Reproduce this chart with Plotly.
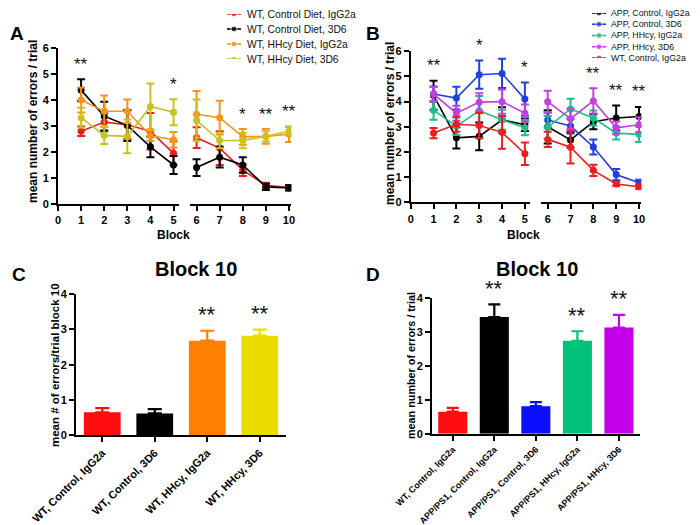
import plotly.graph_objects as go

# ---------------- data ----------------
blocks = [1, 2, 3, 4, 5, 6, 7, 8, 9, 10]

# Panel A
A_names = ["WT, Control Diet, IgG2a", "WT, Control Diet, 3D6",
           "WT, HHcy Diet, IgG2a", "WT, HHcy Diet, 3D6"]
A_wt_ctrl_igg = [2.8, 3.15, 3.05, 2.8, 1.95, 2.55, 2.15, 1.3, 0.72, 0.63]
A_wt_ctrl_igg_err = [0.18, 0.35, 0.55, 0.7, 0.45, 0.4, 0.65, 0.22, 0.1, 0.1]
A_wt_ctrl_3d6 = [4.38, 3.38, 3.02, 2.2, 1.5, 1.4, 1.8, 1.5, 0.66, 0.62]
A_wt_ctrl_3d6_err = [0.42, 0.55, 0.6, 0.4, 0.35, 0.32, 0.4, 0.3, 0.12, 0.1]
A_wt_hhcy_igg = [4.0, 3.57, 3.57, 2.62, 2.47, 3.45, 3.32, 2.58, 2.6, 2.68]
A_wt_hhcy_igg_err = [0.48, 0.6, 0.45, 0.2, 0.3, 0.9, 0.65, 0.3, 0.28, 0.3]
A_wt_hhcy_3d6 = [3.32, 2.64, 2.6, 3.75, 3.53, 3.22, 2.44, 2.44, 2.6, 2.8]
A_wt_hhcy_3d6_err = [0.38, 0.33, 0.65, 0.88, 0.5, 0.8, 0.3, 0.3, 0.2, 0.16]
A_sig_blocks = [1, 5, 8, 9, 10]
A_sig_labels = ["**", "*", "*", "**", "**"]

# Panel B
B_names = ["APP, Control, IgG2a", "APP, Control, 3D6", "APP, HHcy, IgG2a",
           "APP, HHcy, 3D6", "WT, Control, IgG2a"]
B_app_ctrl_igg = [4.25, 2.56, 2.62, 3.28, 3.08, 3.0, 2.48, 3.2, 3.35, 3.41]
B_app_ctrl_igg_err = [0.58, 0.42, 0.55, 0.5, 0.25, 0.66, 0.3, 0.3, 0.5, 0.38]
B_app_ctrl_3d6 = [4.3, 4.14, 5.07, 5.12, 4.1, 3.27, 3.03, 2.2, 1.1, 0.78]
B_app_ctrl_3d6_err = [0.3, 0.45, 0.56, 0.58, 0.66, 0.3, 0.3, 0.3, 0.22, 0.12]
B_app_hhcy_igg = [3.66, 3.02, 3.64, 3.28, 2.96, 2.98, 3.71, 3.35, 2.75, 2.7]
B_app_hhcy_igg_err = [0.38, 0.35, 0.58, 0.4, 0.3, 0.45, 0.4, 0.3, 0.25, 0.3]
B_app_hhcy_3d6 = [4.3, 3.54, 3.98, 4.0, 3.54, 4.0, 3.32, 4.03, 2.96, 3.08]
B_app_hhcy_3d6_err = [0.28, 0.3, 0.35, 0.48, 0.35, 0.43, 0.4, 0.5, 0.25, 0.3]
B_wt_ctrl_igg = [2.75, 3.1, 3.05, 2.78, 1.93, 2.5, 2.19, 1.27, 0.73, 0.62]
B_wt_ctrl_igg_err = [0.2, 0.3, 0.5, 0.65, 0.45, 0.3, 0.65, 0.22, 0.08, 0.08]
B_sig_blocks = [1, 3, 5, 8, 9, 10]
B_sig_labels = ["**", "*", "*", "**", "**", "**"]

# Panel C
C_labels = ["WT, Control, IgG2a", "WT, Control, 3D6", "WT, HHcy, IgG2a", "WT, HHcy, 3D6"]
C_values = [0.65, 0.62, 2.68, 2.82]
C_errors = [0.12, 0.12, 0.28, 0.17]
C_sig = ["", "", "**", "**"]

# Panel D
D_labels = ["WT, Control, IgG2a", "APP/PS1, Control, IgG2a", "APP/PS1, Control, 3D6",
            "APP/PS1, HHcy, IgG2a", "APP/PS1, HHcy, 3D6"]
D_values = [0.65, 3.44, 0.81, 2.74, 3.13]
D_errors = [0.11, 0.37, 0.12, 0.28, 0.37]
D_sig = ["", "**", "", "**", "**"]

# ---------------- styles ----------------
RED, BLACK, ORANGE, OLIVE = "#f21c1c", "#000000", "#f7941d", "#c9c21b"
BLUE, GREEN, PURPLE = "#1f3fe6", "#1dbf85", "#c23fe0"
C_colors = ["#ff0d0d", "#000000", "#ff8000", "#ebdd00"]
D_colors = ["#ff0d0d", "#000000", "#0d0dff", "#00c07a", "#c400ea"]

FONT = "Liberation Sans, Arial, sans-serif"
W, H = 700, 525


def fx(p):
    return p / W


def fy(p):
    return 1 - p / H


fig = go.Figure()

A_series = [(A_names[0], A_wt_ctrl_igg, A_wt_ctrl_igg_err, RED),
            (A_names[1], A_wt_ctrl_3d6, A_wt_ctrl_3d6_err, BLACK),
            (A_names[2], A_wt_hhcy_igg, A_wt_hhcy_igg_err, ORANGE),
            (A_names[3], A_wt_hhcy_3d6, A_wt_hhcy_3d6_err, OLIVE)]
B_series = [(B_names[0], B_app_ctrl_igg, B_app_ctrl_igg_err, BLACK),
            (B_names[1], B_app_ctrl_3d6, B_app_ctrl_3d6_err, BLUE),
            (B_names[2], B_app_hhcy_igg, B_app_hhcy_igg_err, GREEN),
            (B_names[3], B_app_hhcy_3d6, B_app_hhcy_3d6_err, PURPLE),
            (B_names[4], B_wt_ctrl_igg, B_wt_ctrl_igg_err, RED)]


def add_lines(series, xl, xr, yax, legx, legy, legsize, legshift):
    for k, (name, vals, errs, col) in enumerate(series):
        for xa, sl in ((xl, slice(0, 5)), (xr, slice(5, 10))):
            fig.add_trace(go.Scatter(
                x=blocks[sl], y=vals[sl], mode="lines+markers",
                line=dict(color=col, width=1.6),
                marker=dict(color=col, size=7),
                error_y=dict(type="data", array=errs[sl], color=col,
                             thickness=2, width=4),
                xaxis=xa, yaxis=yax, showlegend=False, name=name))
        # legend key
        fig.add_trace(go.Scatter(
            x=[0, 0.5, 1], y=[-k, -k, -k], mode="lines+markers",
            line=dict(color=col, width=1.6),
            marker=dict(color=col, size=[0, 6, 0]),
            xaxis=legx, yaxis=legy, showlegend=False, hoverinfo="skip"))
        fig.add_annotation(x=1, y=-k, xref=legx, yref=legy, text=name,
                           showarrow=False, xanchor="left", xshift=legshift,
                           font=dict(family=FONT, size=legsize, color="#111"))


add_lines(A_series, "x", "x2", "y", "x7", "y7", 10.3, 4)
add_lines(B_series, "x3", "x4", "y3", "x8", "y8", 8.8, 3)


def add_sig(series, sig_blocks, labels, xl, xr, yref):
    for b, lab in zip(sig_blocks, labels):
        i = blocks.index(b)
        top = max(v[i] + e[i] for _, v, e, _ in series)
        fig.add_annotation(x=b, y=top, xref=xl if b <= 5 else xr, yref=yref,
                           text=lab, showarrow=False, yanchor="middle", yshift=15,
                           font=dict(family=FONT, size=17, color="#111"))


add_sig(A_series, A_sig_blocks, A_sig_labels, "x", "x2", "y")
add_sig(B_series, B_sig_blocks, B_sig_labels, "x3", "x4", "y3")

# bars
for labels, vals, errs, cols, xa, ya, cap in ((C_labels, C_values, C_errors, C_colors, "x5", "y5", 7),
                                              (D_labels, D_values, D_errors, D_colors, "x6", "y6", 6)):
    fig.add_trace(go.Bar(x=labels, y=vals, marker=dict(color=cols, line=dict(width=0)),
                         width=0.7, xaxis=xa, yaxis=ya, showlegend=False))
    for lab, v, e, c in zip(labels, vals, errs, cols):
        fig.add_trace(go.Scatter(x=[lab], y=[v], mode="markers",
                                 marker=dict(size=1, color=c, opacity=0),
                                 error_y=dict(type="data", symmetric=False, array=[e], arrayminus=[0],
                                              color=c, thickness=2.2, width=cap),
                                 xaxis=xa, yaxis=ya, showlegend=False, hoverinfo="skip"))

for labels, vals, errs, sig, xa, ya in ((C_labels, C_values, C_errors, C_sig, "x5", "y5"),
                                        (D_labels, D_values, D_errors, D_sig, "x6", "y6")):
    for lab, v, e, s in zip(labels, vals, errs, sig):
        if s:
            fig.add_annotation(x=lab, y=v + e, xref=xa, yref=ya, text=s, showarrow=False,
                               yanchor="middle", yshift=16,
                               font=dict(family=FONT, size=22, color="#111"))

# ---------------- axes ----------------
def axstyle(size=11):
    return dict(showline=True, linecolor="#000", linewidth=2, ticks="outside",
                ticklen=5, tickwidth=2, tickcolor="#000", showgrid=False,
                zeroline=False, fixedrange=True,
                tickfont=dict(family=FONT, size=size, color="#000", weight="bold"))


fig.update_layout(
    xaxis=dict(domain=[fx(50), fx(170.6)], range=[0, 5.22], tickvals=[0, 1, 2, 3, 4, 5],
               anchor="y", **axstyle()),
    xaxis2=dict(domain=[fx(182.1), fx(283.3)], range=[5.72, 10.1], tickvals=[6, 7, 8, 9, 10],
                anchor="y", **axstyle()),
    yaxis=dict(domain=[fy(196), fy(40)], range=[0, 6], dtick=1, anchor="x", **axstyle()),
    xaxis3=dict(domain=[fx(402.7), fx(521.9)], range=[0, 5.22], tickvals=[0, 1, 2, 3, 4, 5],
                anchor="y3", **axstyle()),
    xaxis4=dict(domain=[fx(533.3), fx(633.3)], range=[5.72, 10.1], tickvals=[6, 7, 8, 9, 10],
                anchor="y3", **axstyle()),
    yaxis3=dict(domain=[fy(194.3), fy(43.3)], range=[0, 6], dtick=1, anchor="x3", **axstyle()),
    xaxis5=dict(domain=[fx(68), fx(278)], range=[-0.5, 3.5], tickangle=-45, anchor="y5",
                type="category", **axstyle(11)),
    yaxis5=dict(domain=[fy(427.3), fy(286)], range=[0, 4], dtick=1, anchor="x5", **axstyle()),
    xaxis6=dict(domain=[fx(424), fx(631.7)], range=[-0.5, 4.5], tickangle=-45, anchor="y6",
                type="category", **axstyle(9)),
    yaxis6=dict(domain=[fy(425.7), fy(290)], range=[0, 4], dtick=1, anchor="x6", **axstyle()),
    xaxis7=dict(domain=[fx(219), fx(233)], range=[0, 1], visible=False, fixedrange=True),
    yaxis7=dict(domain=[fy(51), fy(6)], range=[-3, 0], visible=False, fixedrange=True),
    xaxis8=dict(domain=[fx(584), fx(598)], range=[0, 1], visible=False, fixedrange=True),
    yaxis8=dict(domain=[fy(50), fy(5)], range=[-4, 0], visible=False, fixedrange=True),
    width=W, height=H, margin=dict(l=0, r=0, t=0, b=0, autoexpand=False),
    paper_bgcolor="white", plot_bgcolor="white", showlegend=False,
    font=dict(family=FONT, color="#000"),
)

# titles & panel letters
texts = [
    ("A", 9, 25, 19, 0), ("B", 365, 25, 19, 0), ("C", 11, 266, 19, 0), ("D", 365, 266, 19, 0),
    ("Block 10", 188, 261, 20, 0), ("Block 10", 529, 261, 20, 0),
    ("Block", 165, 227, 12, 0), ("Block", 515, 227, 12, 0),
    ("mean number of errors / trial", 25, 114, 12, -90),
    ("mean number of errors / trial", 382, 116, 12, -90),
    ("mean # of errors/trial block 10", 47, 357, 11.5, -90),
    ("mean number of errors / trial", 403, 358, 10.8, -90),
]
for t, x, y, s, ang in texts:
    fig.add_annotation(x=fx(x), y=fy(y), xref="paper", yref="paper", text="<b>%s</b>" % t,
                       showarrow=False, xanchor="center", yanchor="middle", textangle=ang,
                       font=dict(family=FONT, size=s, color="#000"))

fig.write_html("out.html")
